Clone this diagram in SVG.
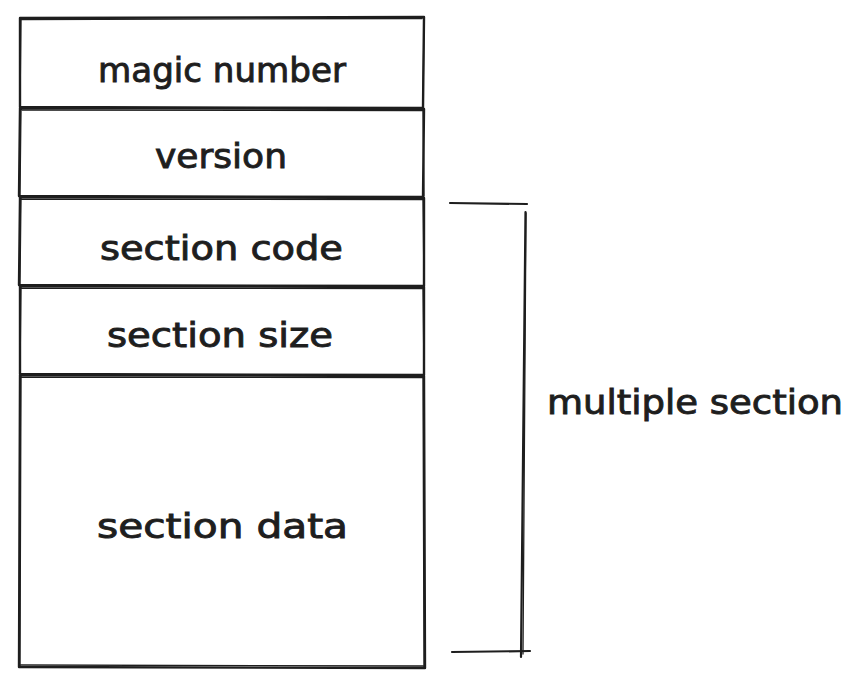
<svg xmlns="http://www.w3.org/2000/svg" width="865" height="689" viewBox="0 0 865 689">
<style>
.box{fill:#ffffff;stroke:#1e1e1e;stroke-width:2.4;stroke-linecap:round;stroke-linejoin:round}
.sk{fill:none;stroke:#1e1e1e;stroke-width:1.3;stroke-linecap:round}
.lbl{font-family:"DejaVu Sans","Liberation Sans",sans-serif;font-size:33px;fill:#1e1e1e;stroke:#1e1e1e;stroke-width:0.9;text-anchor:middle}
.ln{fill:none;stroke:#1e1e1e;stroke-width:2.2;stroke-linecap:round}
</style>
<rect width="865" height="689" fill="#ffffff"/>
<g id="magic-number">
<path class="box" d="M20 18 L424 17 L423 108 L20 107 Z"/>
<path class="sk" d="M21 19.5 L422 18.5 M21 18 L20 106 M424 19 L423 107"/>
<text class="lbl" x="222" y="82" textLength="248" lengthAdjust="spacingAndGlyphs">magic number</text>
</g>
<g id="version">
<path class="box" d="M20 108 L424 109 L423 197 L19 196 Z"/>
<path class="sk" d="M20 110 L423 110.5 M21 109 L20 195 M423 110 L424 196"/>
<text class="lbl" x="221" y="168" textLength="132" lengthAdjust="spacingAndGlyphs">version</text>
</g>
<g id="section-code">
<path class="box" d="M20 197 L424 198 L424 286 L19 285 Z"/>
<path class="sk" d="M21 199 L423 199.5 M21 198 L20 284 M423 199 L424 285"/>
<text class="lbl" x="221.5" y="260" textLength="243" lengthAdjust="spacingAndGlyphs">section code</text>
</g>
<g id="section-size">
<path class="box" d="M20 286 L424 287 L424 375 L20 374 Z"/>
<path class="sk" d="M21 288 L423 288.5 M21 287 L20 373 M423 288 L424 374"/>
<text class="lbl" x="220" y="347" textLength="226" lengthAdjust="spacingAndGlyphs">section size</text>
</g>
<g id="section-data">
<path class="box" d="M20 375 L424 376 L425 668 L19 667 Z"/>
<path class="sk" d="M21 377 L423 377.5 M21 376 L20 666 M423 377 L424 667 M21 665 L423 666"/>
<text class="lbl" x="222.5" y="538" textLength="251" lengthAdjust="spacingAndGlyphs">section data</text>
</g>
<g id="connectors">
<path class="ln" d="M450 203 L527 204"/>
<path class="ln" d="M525.5 212 L521 657"/>
<path class="sk" d="M526 213 L523 654"/>
<path class="ln" d="M452 652 L530 651"/>
</g>
<g id="multiple-section">
<text class="lbl" x="695" y="414" textLength="296" lengthAdjust="spacingAndGlyphs">multiple section</text>
</g>
</svg>
